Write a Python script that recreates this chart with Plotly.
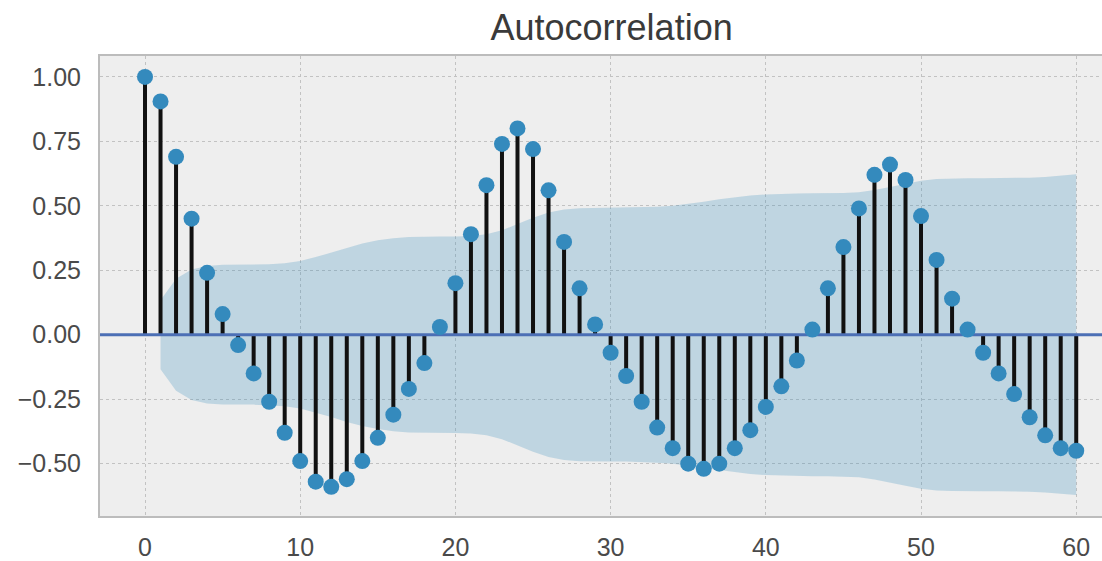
import plotly.graph_objects as go

# ---- data ----
lags = list(range(0, 61))
acf_values = [
    1.00, 0.905, 0.69, 0.45, 0.24, 0.08, -0.04, -0.15, -0.26, -0.38,
    -0.49, -0.57, -0.59, -0.56, -0.49, -0.40, -0.31, -0.21, -0.11, 0.03,
    0.20, 0.39, 0.58, 0.74, 0.80, 0.72, 0.56, 0.36, 0.18, 0.04,
    -0.07, -0.16, -0.26, -0.36, -0.44, -0.50, -0.52, -0.50, -0.44, -0.37,
    -0.28, -0.20, -0.10, 0.02, 0.18, 0.34, 0.49, 0.62, 0.66, 0.60,
    0.46, 0.29, 0.14, 0.02, -0.07, -0.15, -0.23, -0.32, -0.39, -0.44,
    -0.45,
]
band_lags = list(range(1, 61))
band_upper = [
    0.134, 0.217, 0.253, 0.267, 0.271, 0.271, 0.271, 0.273, 0.277, 0.286,
    0.301, 0.319, 0.338, 0.354, 0.366, 0.374, 0.379, 0.381, 0.381, 0.381,
    0.383, 0.390, 0.405, 0.429, 0.454, 0.474, 0.486, 0.491, 0.492, 0.492,
    0.492, 0.493, 0.496, 0.500, 0.507, 0.516, 0.525, 0.533, 0.540, 0.544,
    0.547, 0.548, 0.549, 0.549, 0.550, 0.553, 0.561, 0.573, 0.586, 0.597,
    0.604, 0.606, 0.607, 0.607, 0.607, 0.607, 0.609, 0.612, 0.616, 0.622,
]
x_tick_vals = [0, 10, 20, 30, 40, 50, 60]
x_tick_text = ["0", "10", "20", "30", "40", "50", "60"]
y_tick_vals = [1.0, 0.75, 0.5, 0.25, 0.0, -0.25, -0.5]
y_tick_text = ["1.00", "0.75", "0.50", "0.25", "0.00", "\u22120.25", "\u22120.50"]
title_text = "Autocorrelation"

# ---- layout constants ----
X_RANGE = [-2.9, 61.66]
Y_RANGE = [-0.703, 1.081]
FONT = "Liberation Sans, Arial, Helvetica, sans-serif"

fig = go.Figure()

# confidence band
band_lower = [-v for v in band_upper]
fig.add_trace(go.Scatter(
    x=band_lags + band_lags[::-1],
    y=band_upper + band_lower[::-1],
    fill="toself",
    fillcolor="rgba(52,138,189,0.25)",
    line=dict(width=0),
    mode="lines",
    hoverinfo="skip",
    showlegend=False,
))

# stems
stem_x, stem_y = [], []
for lag, v in zip(lags, acf_values):
    stem_x += [lag, lag, None]
    stem_y += [0, v, None]
fig.add_trace(go.Scatter(
    x=stem_x, y=stem_y, mode="lines",
    line=dict(color="#111111", width=4),
    hoverinfo="skip", showlegend=False,
))

# zero line
fig.add_trace(go.Scatter(
    x=X_RANGE, y=[0, 0], mode="lines",
    line=dict(color="#4C6FB5", width=3),
    hoverinfo="skip", showlegend=False,
))

# markers
fig.add_trace(go.Scatter(
    x=lags, y=acf_values, mode="markers",
    marker=dict(color="#348ABD", size=16, line=dict(width=0)),
    showlegend=False,
))

fig.update_layout(
    width=1102, height=561,
    margin=dict(l=100, r=0, t=56, b=34),
    paper_bgcolor="white",
    plot_bgcolor="#EEEEEE",
    font=dict(family=FONT, color="#4a4a4a", size=25),
    title=dict(
        text=title_text,
        font=dict(family=FONT, size=36, color="#3a3a3a"),
        xref="container", x=0.555, xanchor="center",
        yref="container", y=1 - 27 / 561, yanchor="middle",
    ),
    xaxis=dict(
        range=X_RANGE,
        tickvals=x_tick_vals, ticktext=x_tick_text,
        showgrid=True, gridcolor="#C2C2C2", griddash="3px,3px", gridwidth=1,
        zeroline=False,
        showline=True, linecolor="#BCBCBC", linewidth=2, mirror=True,
        ticks="", ticklabelstandoff=8,
    ),
    yaxis=dict(
        range=Y_RANGE,
        tickvals=y_tick_vals, ticktext=y_tick_text,
        showgrid=True, gridcolor="#C2C2C2", griddash="3px,3px", gridwidth=1,
        zeroline=False,
        showline=True, linecolor="#BCBCBC", linewidth=2, mirror=False,
        ticks="", ticklabelstandoff=12,
    ),
)

fig.write_html(
    "out.html",
    config={"displayModeBar": False},
    post_script="document.body.style.margin='0px';document.body.style.overflow='hidden';",
)
